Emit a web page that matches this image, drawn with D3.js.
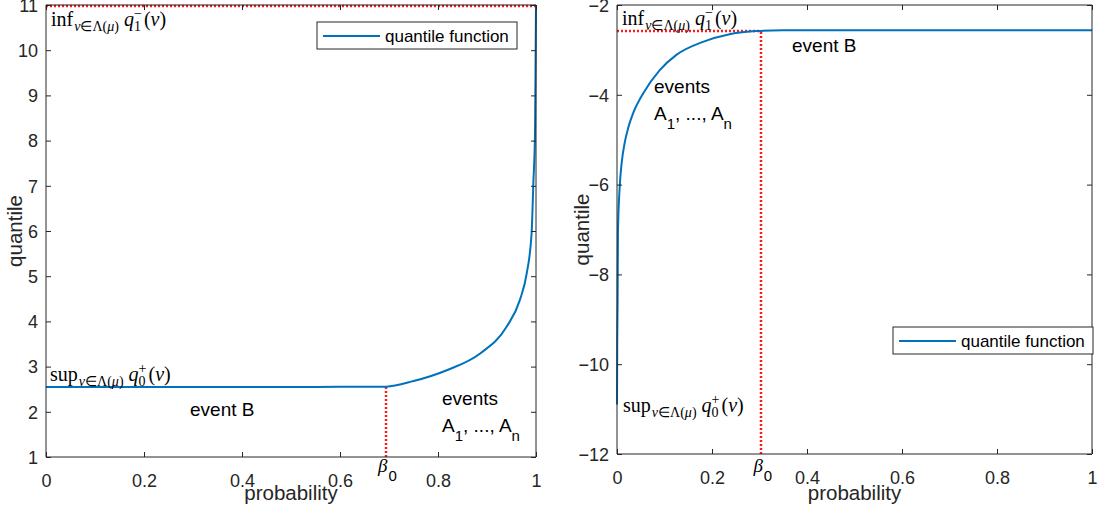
<!DOCTYPE html>
<html><head><meta charset="utf-8">
<script src="https://cdn.jsdelivr.net/npm/d3@7"></script>
<style>body{margin:0;background:#fff}svg{display:block}</style>
</head><body>
<svg id="c" width="1099" height="508"></svg>
<script>
// ---- data ----
const leftProb = [0, 0.1, 0.2, 0.3, 0.4, 0.5, 0.6, 0.694, 0.75, 0.818, 0.886, 0.94, 0.967, 0.981, 0.991, 0.9946, 0.998, 0.9993, 1];
const leftQuant = [2.55, 2.55, 2.55, 2.55, 2.55, 2.551, 2.552, 2.556, 2.68, 2.92, 3.29, 3.88, 4.47, 5.06, 5.95, 7.06, 8.2, 10.0, 11];
const rightProb = [0, 0.0005, 0.0013, 0.002, 0.0057, 0.01, 0.016, 0.024, 0.034, 0.055, 0.09, 0.125, 0.181, 0.237, 0.294, 0.35, 0.5, 0.75, 1];
const rightQuant = [-10.9, -9.5, -8.57, -7.08, -6.05, -5.5, -5.08, -4.72, -4.41, -3.97, -3.45, -3.11, -2.82, -2.65, -2.58, -2.565, -2.56, -2.56, -2.56];
const xTicks = [0, 0.2, 0.4, 0.6, 0.8, 1];
const leftYTicks = [1, 2, 3, 4, 5, 6, 7, 8, 9, 10, 11];
const rightYTicks = [-12, -10, -8, -6, -4, -2];
const leftBeta = 0.694, leftSup = 2.556, leftInf = 11;
const rightBeta = 0.304, rightInf = -2.57;
const legendLabel = "quantile function";

const svg = d3.select("#c");
const SANS = "'Liberation Sans', Arial, Helvetica, sans-serif";
const SERIF = "'Liberation Serif', 'Times New Roman', serif";
const AX = "#262626";

function mathText(g, x, y, parts) {
  const t = g.append("text").attr("x", x).attr("y", y).attr("font-family", SERIF).attr("fill", "#000");
  let cur = 0;
  parts.forEach(p => {
    const s = t.append("tspan").text(p.t).attr("font-size", p.s || 20)
      .attr("dy", (p.off || 0) - cur);
    if (p.dx) s.attr("dx", p.dx);
    if (p.it) s.attr("font-style", "italic");
    cur = p.off || 0;
  });
  return t;
}
const M = 20, S = 14;
const subLambda = [
  {t:"ν", s:S, off:5, it:true, dx:1}, {t:"∈Λ(", s:S, off:5}, {t:"μ", s:S, off:5, it:true}, {t:")", s:S, off:5}
];
function scriptParts(op, lo, hi) {
  return [{t:op, s:M}].concat(subLambda, [
    {t:"\u00a0", s:M, off:0}, {t:"q", s:M, off:0, it:true},
    {t:lo, s:S, off:5}, {t:hi, s:S, off:-8, dx:-7},
    {t:"(", s:M, off:0, dx:2}, {t:"ν", s:M, off:0, it:true}, {t:")", s:M, off:0}
  ]);
}
function eventsText(g, x, y) {
  g.append("text").attr("x", x).attr("y", y).attr("font-family", SANS).attr("font-size", 19).text("events");
  const t = g.append("text").attr("x", x).attr("y", y + 27).attr("font-family", SANS).attr("font-size", 19);
  t.append("tspan").text("A");
  t.append("tspan").text("1").attr("font-size", 15).attr("dy", 9);
  t.append("tspan").text(", ..., A").attr("dy", -9);
  t.append("tspan").text("n").attr("font-size", 15).attr("dy", 9);
}

function panel(cfg) {
  const x = d3.scaleLinear().domain([0, 1]).range([cfg.x0, cfg.x1]);
  const y = d3.scaleLinear().domain(cfg.yDom).range([cfg.yb, cfg.yt]);
  const g = svg.append("g");
  // red dotted guides
  const red = g.append("g").attr("stroke", "#ff1a1a").attr("stroke-width", 2.5).attr("stroke-dasharray", "2,2")
    .attr("fill", "none");
  cfg.guides(red, x, y);
  // curve
  g.append("path").datum(cfg.px.map((p, i) => [p, cfg.qy[i]]))
    .attr("fill", "none").attr("stroke", "#0072BD").attr("stroke-width", 2)
    .attr("d", d3.line().x(d => x(d[0])).y(d => y(d[1])).curve(d3.curveMonotoneX));
  // axes
  const tl = 5;
  const bottom = d3.axisBottom(x).tickValues(xTicks).tickSize(-tl).tickFormat(d3.format("~g"));
  const top = d3.axisTop(x).tickValues(xTicks).tickSize(-tl).tickFormat("");
  const left = d3.axisLeft(y).tickValues(cfg.yTicks).tickSize(-tl).tickFormat(d3.format("~g"));
  const right = d3.axisRight(y).tickValues(cfg.yTicks).tickSize(-tl).tickFormat("");
  function style(a) {
    a.select(".domain").attr("stroke", AX).attr("stroke-width", 1);
    a.selectAll(".tick line").attr("stroke", AX);
    a.selectAll(".tick text").attr("font-family", SANS).attr("font-size", 18).attr("fill", AX);
  }
  const ab = g.append("g").attr("transform", `translate(0,${cfg.yb})`).call(bottom); style(ab);
  ab.selectAll(".tick text").attr("y", 0).attr("dy", 0).attr("transform", "translate(0,30)");
  const at = g.append("g").attr("transform", `translate(0,${cfg.yt})`).call(top); style(at);
  const al = g.append("g").attr("transform", `translate(${cfg.x0},0)`).call(left); style(al);
  al.selectAll(".tick text").attr("x", -8).attr("dy", "0.35em");
  const ar = g.append("g").attr("transform", `translate(${cfg.x1},0)`).call(right); style(ar);
  [ab, at, al, ar].forEach(a => a.select(".domain").attr("d", a === ab || a === at ? `M${cfg.x0},0H${cfg.x1}` : `M0,${cfg.yt}V${cfg.yb}`));
  // axis labels
  g.append("text").attr("x", (cfg.x0 + cfg.x1) / 2).attr("y", 500).attr("text-anchor", "middle")
    .attr("font-family", SANS).attr("font-size", 20.5).attr("fill", AX).text("probability");
  g.append("text").attr("transform", `translate(${cfg.yl},${(cfg.yt + cfg.yb) / 2}) rotate(-90)`)
    .attr("text-anchor", "middle").attr("font-family", SANS).attr("font-size", 20.5).attr("fill", AX).text("quantile");
  // beta_0 tick label
  const bt = g.append("text").attr("x", x(cfg.beta) - 8).attr("y", 472).attr("fill", "#000");
  bt.append("tspan").text("β").attr("font-family", SERIF).attr("font-style", "italic").attr("font-size", 19);
  bt.append("tspan").text("0").attr("font-family", SANS).attr("font-size", 15).attr("dy", 9).attr("dx", 1);
  // legend
  const lg = g.append("g");
  lg.append("rect").attr("x", cfg.lx).attr("y", cfg.ly).attr("width", 200).attr("height", 27)
    .attr("fill", "#fff").attr("stroke", AX).attr("stroke-width", 1);
  lg.append("line").attr("x1", cfg.lx + 6).attr("x2", cfg.lx + 63).attr("y1", cfg.ly + 14).attr("y2", cfg.ly + 14)
    .attr("stroke", "#0072BD").attr("stroke-width", 2);
  lg.append("text").attr("x", cfg.lx + 68).attr("y", cfg.ly + 20).attr("font-family", SANS).attr("font-size", 17)
    .attr("fill", "#000").text(legendLabel);
  cfg.annot(g, x, y);
}

panel({
  x0: 46, x1: 536, yt: 5, yb: 457, yDom: [1, 11], yTicks: leftYTicks, yl: 22,
  px: leftProb, qy: leftQuant, beta: leftBeta, lx: 317, ly: 22,
  guides: (r, x, y) => {
    r.append("line").attr("x1", x(0)).attr("x2", x(1)).attr("y1", y(leftInf) + 1).attr("y2", y(leftInf) + 1);
    const bx = Math.round(x(leftBeta));
    r.append("line").attr("x1", bx).attr("x2", bx).attr("y1", y(1)).attr("y2", y(leftSup));
  },
  annot: (g) => {
    mathText(g, 51, 26, scriptParts("inf", "1", "−"));
    mathText(g, 50, 381, scriptParts("sup", "0", "+"));
    g.append("text").attr("x", 190).attr("y", 416).attr("font-family", SANS).attr("font-size", 19).text("event B");
    eventsText(g, 442, 405);
  }
});

panel({
  x0: 617, x1: 1092, yt: 5, yb: 454, yDom: [-12, -2], yTicks: rightYTicks, yl: 589,
  px: rightProb, qy: rightQuant, beta: rightBeta, lx: 893, ly: 327,
  guides: (r, x, y) => {
    const by = Math.round(y(rightInf)), bx = Math.round(x(rightBeta));
    r.append("line").attr("x1", x(0)).attr("x2", bx).attr("y1", by).attr("y2", by);
    r.append("line").attr("x1", bx).attr("x2", bx).attr("y1", y(-12)).attr("y2", by);
  },
  annot: (g) => {
    mathText(g, 622, 25, scriptParts("inf", "1", "−"));
    mathText(g, 623, 412, scriptParts("sup", "0", "+"));
    g.append("text").attr("x", 792).attr("y", 52).attr("font-family", SANS).attr("font-size", 19).text("event B");
    eventsText(g, 654, 93);
  }
});
</script>
</body></html>
